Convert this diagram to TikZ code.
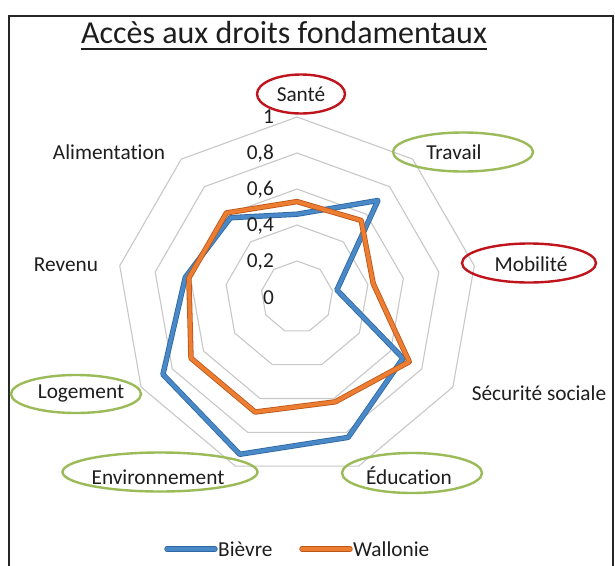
\documentclass[tikz,border=0pt]{standalone}
\usepackage{fontspec}
\setmainfont[Ligatures={NoCommon}]{Carlito}
\usetikzlibrary{shapes.geometric,calc}
\definecolor{gridgray}{HTML}{C8C8C8}
\definecolor{bluemain}{HTML}{4A89C8}
\definecolor{blueedge}{HTML}{2E66A0}
\definecolor{orangemain}{HTML}{ED7D31}
\definecolor{orangeedge}{HTML}{B8561A}
\definecolor{ringred}{HTML}{C0141C}
\definecolor{ringgreen}{HTML}{9BBB59}
\definecolor{txt}{HTML}{1E1E1E}
\tikzset{
  grid/.style={draw=gridgray, line width=1.1pt},
  bievre/.style={draw=blueedge, double=bluemain, double distance=3.8pt, line width=0.8pt, line join=round},
  wallonie/.style={draw=orangeedge, double=orangemain, double distance=3.8pt, line width=0.8pt, line join=round},
  cat/.style={text=txt, font=\fontsize{21.3}{23}\selectfont, inner sep=0pt},
  tick/.style={text=txt, font=\fontsize{21.3}{23}\selectfont, inner sep=0pt, anchor=east},
  redring/.style={ellipse, draw=ringred, line width=2.4pt, inner sep=0pt},
  greenring/.style={ellipse, draw=ringgreen, line width=2.4pt, inner sep=0pt},
}
\begin{document}
\begin{tikzpicture}[x=1pt,y=-1pt]
\useasboundingbox (0,0) rectangle (615,565);
\fill[white] (0,0) rectangle (615,565);
% frame
\draw[line width=1.6pt, draw=black!85] (9,566) -- (9,16) -- (613,16) -- (613,566);
% title
\node[text=txt, font=\fontsize{32}{34}\selectfont, inner sep=0pt, anchor=base] (title) at (284,43) {Accès aux droits fondamentaux};
\draw[line width=1.2pt, draw=txt] ($(title.base west)+(0,6)$) -- ($(title.base east)+(0,6)$);
% grid
\begin{scope}[shift={(297,297)}]
\foreach \r in {36,72,108,144,180}{
  \draw[grid] (-90:\r) \foreach \k in {1,...,8}{ -- ({-90+40*\k}:\r)} -- cycle;
}
\coordinate (c) at (0,0);
% Bievre
\draw[bievre] (-90:{0.46*180}) -- (-50:{0.70*180}) -- (-10:{0.225*180}) -- (30:{0.68*180}) -- (70:{0.83*180}) -- (110:{0.93*180}) -- (150:{0.86*180}) -- (190:{0.63*180}) -- (230:{0.575*180}) -- cycle;
% Wallonie
\draw[wallonie] (-90:{0.53*180}) -- (-50:{0.555*180}) -- (-10:{0.43*180}) -- (30:{0.72*180}) -- (70:{0.62*180}) -- (110:{0.68*180}) -- (150:{0.68*180}) -- (190:{0.61*180}) -- (230:{0.61*180}) -- cycle;
\end{scope}
% tick labels
\node[tick] (t0) at (274,298) {0};
\node[tick] (t2) at (274,262) {0,2};
\node[tick] (t4) at (274,226) {0,4};
\node[tick] (t6) at (274,190) {0,6};
\node[tick] (t8) at (274,154) {0,8};
\node[tick] (t10) at (274,117) {1};
% highlight rings
\node[redring, minimum width=88pt, minimum height=39pt] (rsante) at (301,94) {};
\node[greenring, minimum width=140pt, minimum height=39pt] (rtravail) at (463,152) {};
\node[redring, minimum width=134pt, minimum height=39pt] (rmobilite) at (529,263) {};
\node[greenring, minimum width=130pt, minimum height=38pt] (rlogement) at (76,394) {};
\node[greenring, minimum width=195pt, minimum height=39pt] (renvironnement) at (160,472) {};
\node[greenring, minimum width=140pt, minimum height=40pt] (reducation) at (412,473) {};
% category labels
\node[cat] (sante) at (301,94) {Santé};
\node[cat] (travail) at (454,152) {Travail};
\node[cat] (mobilite) at (531,264) {Mobilité};
\node[cat] (securite) at (539,393) {Sécurité sociale};
\node[cat] (education) at (409,476) {Éducation};
\node[cat] (environnement) at (158,477) {Environnement};
\node[cat] (logement) at (81,393) {Logement};
\node[cat] (revenu) at (66,265) {Revenu};
\node[cat] (alimentation) at (109,152) {Alimentation};
% legend
\coordinate (lb1) at (167,549);
\coordinate (lb2) at (215,549);
\coordinate (lo1) at (302,549);
\coordinate (lo2) at (350,549);
\draw[bievre, line cap=round] (lb1) -- (lb2);
\draw[wallonie, line cap=round] (lo1) -- (lo2);
\node[cat, anchor=west] (legb) at (218,549) {Bièvre};
\node[cat, anchor=west] (lego) at (353,549) {Wallonie};
\end{tikzpicture}
\end{document}
